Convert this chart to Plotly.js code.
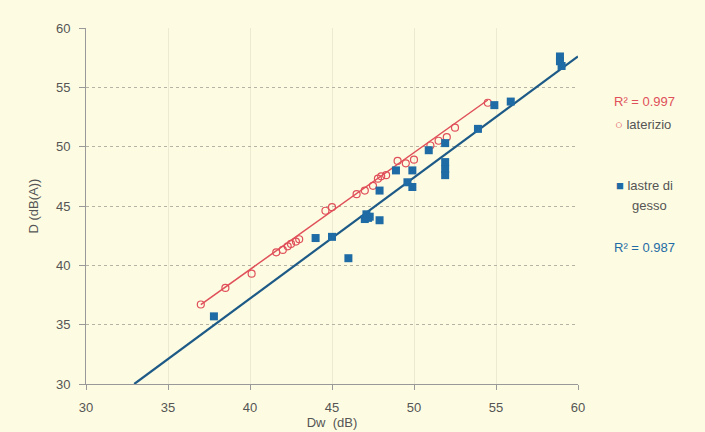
<!DOCTYPE html>
<html><head><meta charset="utf-8">
<script src="https://cdn.plot.ly/plotly-3.0.1.min.js"></script>
<style>html,body{margin:0;padding:0;background:#FDFCE2;}#chart{width:705px;height:432px;}</style>
</head><body><div id="chart"></div>
<script>
// laterizio (red open circles)
const latX = [37.0, 38.5, 40.1, 41.6, 42.0, 42.3, 42.5, 42.8, 43.0, 44.6, 45.0, 46.5, 47.0, 47.5, 47.8, 48.0, 48.3, 49.0, 49.5, 50.0, 51.0, 51.5, 52.0, 52.5, 54.5];
const latY = [36.7, 38.1, 39.3, 41.1, 41.3, 41.6, 41.8, 42.0, 42.2, 44.6, 44.9, 46.0, 46.3, 46.7, 47.3, 47.5, 47.6, 48.8, 48.6, 48.9, 50.1, 50.5, 50.8, 51.6, 53.7];
// lastre di gesso (blue filled squares)
const gesX = [37.8, 44.0, 45.0, 46.0, 47.0, 47.1, 47.2, 47.3, 47.9, 47.9, 48.9, 49.6, 49.9, 49.9, 50.9, 51.9, 51.9, 51.9, 51.9, 53.9, 54.9, 55.9, 58.9, 58.9, 59.0];
const gesY = [35.7, 42.3, 42.4, 40.6, 43.9, 44.3, 44.0, 44.1, 43.8, 46.3, 48.0, 47.0, 46.6, 48.0, 49.7, 50.3, 48.7, 48.1, 47.6, 51.5, 53.5, 53.8, 57.6, 57.2, 56.8];
// linear trendlines: [slope, intercept]
const latTrend = [0.985, 0.25];
const gesTrend = [1.02, -3.6];
const r2Lat = "R² = 0.997";
const r2Ges = "R² = 0.987";
const xTicks = [30, 35, 40, 45, 50, 55, 60];
const yTicks = [30, 35, 40, 45, 50, 55, 60];
const xTitle = "Dw  (dB)";
const yTitle = "D (dB(A))";
const seriesNames = ["laterizio", "lastre di", "gesso"];

const RED = '#E0505A', BLUE = '#1F6BA5';
const latLineX = [Math.min(...latX), Math.max(...latX)];
const gesLineX = [(yTicks[0]-gesTrend[1])/gesTrend[0], xTicks[xTicks.length-1]];

const traces = [
  {x: latLineX, y: latLineX.map(v=>latTrend[1]+latTrend[0]*v), mode:'lines', line:{color:RED, width:1.5}, showlegend:false, hoverinfo:'skip'},
  {x: gesLineX, y: gesLineX.map(v=>gesTrend[1]+gesTrend[0]*v), mode:'lines', line:{color:'#1E5A87', width:2.2}, showlegend:false, hoverinfo:'skip'},
  {x: latX, y: latY, mode:'markers', name:'laterizio', showlegend:false, marker:{symbol:'circle-open', size:7, color:RED, line:{width:1.2}}},
  {x: gesX, y: gesY, mode:'markers', name:'lastre di gesso', showlegend:false, marker:{symbol:'square', size:8, color:BLUE}}
];

const F = 'Liberation Sans, Arial, sans-serif';
const px = v => (v-86)/492, py = v => (384-v)/356;
const layout = {
  width:705, height:432,
  paper_bgcolor:'#FDFCE2', plot_bgcolor:'#FDFCE2',
  margin:{l:86, r:127, t:28, b:48},
  font:{family:F, size:13, color:'#555'},
  xaxis:{range:[30,60], tickvals:xTicks, ticktext:xTicks.map(String), showgrid:true, gridcolor:'#ECEBD2', gridwidth:1,
    zeroline:false, showline:true, linecolor:'#999', ticks:'outside', ticklen:5, tickcolor:'#999', ticklabelstandoff:6,
    tickfont:{family:F, size:13, color:'#555'}, title:{text:xTitle, font:{family:F, size:13, color:'#555'}, standoff:0}},
  yaxis:{range:[30,60], tickvals:yTicks, ticktext:yTicks.map(String), showgrid:true, gridcolor:'#B5B4A4', gridwidth:1, griddash:'dot',
    zeroline:false, showline:true, linecolor:'#999', ticks:'outside', ticklen:6, tickcolor:'#999', ticklabelstandoff:6,
    tickfont:{family:F, size:13, color:'#555'}, title:{text:yTitle, font:{family:F, size:13, color:'#555'}, standoff:14}},
  showlegend:false,
  annotations:[
    {xref:'paper', yref:'paper', x:px(612), y:py(102), xanchor:'left', yanchor:'middle', text:r2Lat, showarrow:false, font:{family:F, size:13, color:RED}},
    {xref:'paper', yref:'paper', x:px(613), y:py(124), xanchor:'left', yanchor:'middle', text:'<span style="color:'+RED+'">○</span> '+seriesNames[0], showarrow:false, font:{family:F, size:13, color:'#555'}},
    {xref:'paper', yref:'paper', x:px(614), y:py(185), xanchor:'left', yanchor:'middle', text:'<span style="color:'+BLUE+'">■</span> '+seriesNames[1], showarrow:false, font:{family:F, size:13, color:'#555'}},
    {xref:'paper', yref:'paper', x:px(630), y:py(205), xanchor:'left', yanchor:'middle', text:seriesNames[2], showarrow:false, font:{family:F, size:13, color:'#555'}},
    {xref:'paper', yref:'paper', x:px(612), y:py(248), xanchor:'left', yanchor:'middle', text:r2Ges, showarrow:false, font:{family:F, size:13, color:BLUE}}
  ]
};
Plotly.newPlot('chart', traces, layout, {displayModeBar:false, staticPlot:true});
</script></body></html>
